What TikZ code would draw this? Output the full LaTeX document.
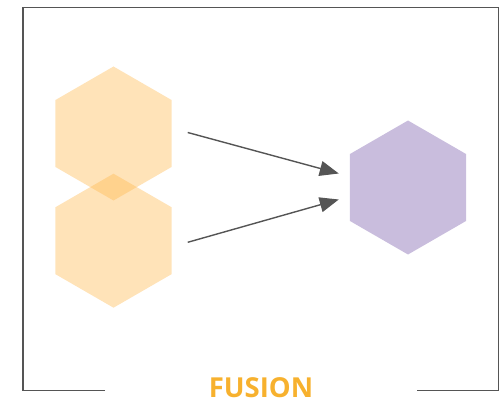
\documentclass[tikz,border=0pt]{standalone}
\usepackage{fontspec}
\usepackage{xcolor}
\usepackage{tikz}
\usetikzlibrary{arrows.meta,shapes.geometric}

\newfontfamily\captionfont{Open Sans}

\definecolor{hexorange}{HTML}{FFB84D}
\definecolor{hexpurple}{HTML}{C9BDDD}
\definecolor{labelorange}{HTML}{F7B12E}
\definecolor{linegrey}{HTML}{555555}

\tikzset{
  hexbox/.style={regular polygon, regular polygon sides=6, regular polygon rotate=30,
    minimum size=134pt, inner sep=0pt},
  hexin/.style={hexbox, fill=hexorange, fill opacity=0.4},
  hexout/.style={hexbox, fill=hexpurple},
  flow/.style={draw=linegrey, line width=1.4pt, -{Triangle[length=19pt,width=15pt]}},
  frame/.style={draw=linegrey, line width=1.6pt}
}

\begin{document}
\begin{tikzpicture}[x=1pt,y=-1pt]
    \useasboundingbox (0,0) rectangle (504,404);

    \node[hexin] (in_top) at (113.5,133.5) {};
    \node[hexin] (in_bottom) at (113.5,240.7) {};
    \node[hexout] (out) at (408,187.5) {};
    \node[anchor=base, inner sep=0pt, text=labelorange, font=\captionfont\bfseries\fontsize{27.5}{30}\selectfont] (title) at (261,397) {FUSION};

    \draw[frame] (105,390.5) -- (22.7,390.5) -- (22.7,7.5) -- (498.3,7.5) -- (498.3,390.5) -- (416.7,390.5);

    \draw[flow] ([xshift=16pt,yshift=1pt]in_top.east) -- ([xshift=-11pt,yshift=14pt]out.west);
    \draw[flow] ([xshift=16pt,yshift=-1.6pt]in_bottom.east) -- ([xshift=-11pt,yshift=-12pt]out.west);

\end{tikzpicture}
\end{document}
